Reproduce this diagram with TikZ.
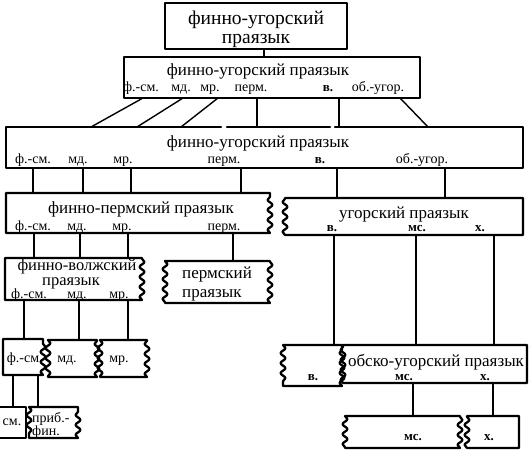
\documentclass[tikz,border=0pt]{standalone}
\usepackage{fontspec}
\setmainfont{Liberation Serif}
\usetikzlibrary{decorations.pathmorphing}
\begin{document}
\begin{tikzpicture}[x=1pt,y=-1pt,
  bx/.style={line width=2.3pt,line join=round,line cap=round},
  cn/.style={line width=1.4pt},
  wv/.style={decoration={snake,segment length=10pt,amplitude=2.4pt}},
  ar/.style 2 args={anchor=north west,inner sep=0pt,outer sep=0pt,minimum width=#1pt,minimum height=#2pt},
  mt/.style={font=\fontsize{17}{19}\selectfont,inner sep=0pt,anchor=base},
  lb/.style={font=\fontsize{14}{15}\selectfont,inner sep=0pt,anchor=base},
  lbb/.style={font=\fontsize{13}{15}\selectfont\bfseries,inner sep=0pt,anchor=base}]
\useasboundingbox (0,0) rectangle (529,449);
% ---------- box areas ----------
\node[ar={182}{46}] (A) at (165,3) {};
\node[ar={296}{41}] (B) at (124,57) {};
\node[ar={517}{41}] (C) at (6,127) {};
\node[ar={264}{40}] (D) at (6,193) {};
\node[ar={238}{37}] (L) at (285,198) {};
\node[ar={137}{42}] (E) at (5,258) {};
\node[ar={105}{42}] (F) at (165,261) {};
\node[ar={40}{36}] (G) at (3,339) {};
\node[ar={49}{37}] (H) at (48,340) {};
\node[ar={47}{37}] (I) at (100,340) {};
\node[ar={26}{31}] (J) at (0,407) {};
\node[ar={49}{31}] (K) at (29,407) {};
\node[ar={59}{41}] (M) at (283,345) {};
\node[ar={184}{38}] (N) at (343,345) {};
\node[ar={115}{32}] (O) at (345,416) {};
\node[ar={52}{32}] (P) at (467,416) {};
% ---------- borders ----------
\draw[bx] (A.north west) rectangle (A.south east);
\draw[bx] (B.north west) rectangle (B.south east);
\draw[bx] (221,0 |- C.north) -- (C.north west) -- (C.south west) -- (C.south east) -- (C.north east) -- (335,0 |- C.north);
\draw[bx] (227,0 |- C.north) -- (330,0 |- C.north);
\draw[bx] (D.north east) -- (D.north west) -- (D.south west) -- (D.south east) decorate[wv]{(D.south east) -- (D.north east)};
\draw[bx] (L.north west) -- (L.north east) -- (L.south east) -- (L.south west) decorate[wv]{(L.south west) -- (L.north west)};
\draw[bx] (E.north east) -- (E.north west) -- (E.south west) -- (E.south east) decorate[wv]{(E.south east) -- (E.north east)};
\draw[bx] decorate[wv]{(F.north west) -- (F.south west)} (F.south west) -- (F.south east) decorate[wv]{(F.south east) -- (F.north east)} (F.north east) -- (F.north west);
\draw[bx] (G.north east) -- (G.north west) -- (G.south west) -- (G.south east) decorate[wv]{(G.south east) -- (G.north east)};
\draw[bx] decorate[wv]{(H.north west) -- (H.south west)} (H.south west) -- (H.south east) decorate[wv]{(H.south east) -- (H.north east)} (H.north east) -- (H.north west);
\draw[bx] decorate[wv]{(I.north west) -- (I.south west)} (I.south west) -- (I.south east) decorate[wv]{(I.south east) -- (I.north east)} (I.north east) -- (I.north west);
\draw[bx] (J.north west) -- (J.north east) -- (J.south east) -- (J.south west);
\draw[bx] decorate[wv]{(K.north west) -- (K.south west)} (K.south west) -- (K.south east) decorate[wv]{(K.south east) -- (K.north east)} (K.north east) -- (K.north west);
\draw[bx] decorate[wv]{(M.north west) -- (M.south west)} (M.south west) -- (M.south east) decorate[wv]{(M.south east) -- (M.north east)} (M.north east) -- (M.north west);
\draw[bx] (N.north west) -- (N.north east) -- (N.south east) -- (N.south west) decorate[wv]{(N.south west) -- (N.north west)};
\draw[bx] decorate[wv]{(O.north west) -- (O.south west)} (O.south west) -- (O.south east) decorate[wv]{(O.south east) -- (O.north east)} (O.north east) -- (O.north west);
\draw[bx] (P.north west) -- (P.north east) -- (P.south east) -- (P.south west) decorate[wv]{(P.south west) -- (P.north west)};
% ---------- texts ----------
\node[font=\fontsize{19.5}{19}\selectfont,inner sep=0pt,align=center] (At) at (256,29) {финно-угорский\\праязык};
\node[mt] (Bt) at (258,76) {финно-угорский праязык};
\node[lb] (Bfs) at (141,92) {ф.-см.};
\node[lb] (Bmd) at (181,92) {мд.};
\node[lb] (Bmr) at (210,92) {мр.};
\node[lb] (Bpe) at (251,92) {перм.};
\node[lbb] (Bv) at (328,92) {в.};
\node[lb] (Bou) at (378,92) {об.-угор.};
\node[mt] (Ct) at (258,148) {финно-угорский праязык};
\node[lb] (Cfs) at (33,164) {ф.-см.};
\node[lb] (Cmd) at (78,164) {мд.};
\node[lb] (Cmr) at (123,164) {мр.};
\node[lb] (Cpe) at (224,164) {перм.};
\node[lbb] (Cv) at (320,164) {в.};
\node[lb] (Cou) at (422,164) {об.-угор.};
\node[mt] (Dt) at (141,213) {финно-пермский праязык};
\node[lb] (Dfs) at (33,230) {ф.-см.};
\node[lb] (Dmd) at (77,230) {мд.};
\node[lb] (Dmr) at (122,230) {мр.};
\node[lb] (Dpe) at (224,230) {перм.};
\node[mt] (Lt) at (404,218) {угорский праязык};
\node[lbb] (Lv) at (332,231) {в.};
\node[lbb] (Lms) at (417,231) {мс.};
\node[lbb] (Lh) at (480,231) {х.};
\node[mt,font=\fontsize{16.5}{18}\selectfont] (Et1) at (77,270) {финно-волжский};
\node[mt,font=\fontsize{16.5}{18}\selectfont] (Et2) at (71,285) {праязык};
\node[lb] (Efs) at (29,298) {ф.-см.};
\node[lb] (Emd) at (77,298) {мд.};
\node[lb] (Emr) at (119,298) {мр.};
\node[mt,anchor=base west] (Ft1) at (182,278) {пермский};
\node[mt,anchor=base west] (Ft2) at (182,297) {праязык};
\node[lb] (Gt) at (23,362) {ф.-см};
\node[lb] (Ht) at (67,362) {мд.};
\node[lb] (It) at (119,362) {мр.};
\node[lb] (Jt) at (12,425) {см.};
\node[lb,anchor=base west] (Kt1) at (32,422) {приб.-};
\node[lb,anchor=base west] (Kt2) at (32,435) {фин.};
\node[lbb] (Mt) at (313,380) {в.};
\node[mt] (Nt) at (436,366) {обско-угорский праязык};
\node[lbb] (Nms) at (404,380) {мс.};
\node[lbb] (Nh) at (485,380) {х.};
\node[lbb] (Ot) at (413,440) {мс.};
\node[lbb] (Pt) at (489,440) {х.};
% ---------- connectors ----------
\draw[cn] (264,0 |- A.south) -- (264,0 |- B.north);
\draw[cn] (143,0 |- B.south) -- (91,0 |- C.north);
\draw[cn] (183,0 |- B.south) -- (137,0 |- C.north);
\draw[cn] (218,0 |- B.south) -- (181,0 |- C.north);
\draw[cn] (257,0 |- B.south) -- (257,0 |- C.north);
\draw[cn] (339,0 |- B.south) -- (339,0 |- C.north);
\draw[cn] (400,0 |- B.south) -- (428,0 |- C.north);
\draw[cn] (33,0 |- C.south) -- (33,0 |- D.north);
\draw[cn] (83,0 |- C.south) -- (83,0 |- D.north);
\draw[cn] (131,0 |- C.south) -- (131,0 |- D.north);
\draw[cn] (241,0 |- C.south) -- (241,0 |- D.north);
\draw[cn] (337,0 |- C.south) -- (337,0 |- L.north);
\draw[cn] (445,0 |- C.south) -- (445,0 |- L.north);
\draw[cn] (34,0 |- D.south) -- (34,0 |- E.north);
\draw[cn] (80,0 |- D.south) -- (80,0 |- E.north);
\draw[cn] (128,0 |- D.south) -- (128,0 |- E.north);
\draw[cn] (233,0 |- D.south) -- (233,0 |- F.north);
\draw[cn] (24,0 |- E.south) -- (24,0 |- G.north);
\draw[cn] (79,0 |- E.south) -- (79,0 |- H.north);
\draw[cn] (128,0 |- E.south) -- (128,0 |- I.north);
\draw[cn] (13,0 |- G.south) -- (13,0 |- J.north);
\draw[cn] (38,0 |- G.south) -- (38,0 |- K.north);
\draw[cn] (334,0 |- L.south) -- (334,0 |- M.north);
\draw[cn] (416,0 |- L.south) -- (416,0 |- N.north);
\draw[cn] (494,0 |- L.south) -- (494,0 |- N.north);
\draw[cn] (413,0 |- N.south) -- (413,0 |- O.north);
\draw[cn] (493,0 |- N.south) -- (493,0 |- P.north);
\end{tikzpicture}
\end{document}
